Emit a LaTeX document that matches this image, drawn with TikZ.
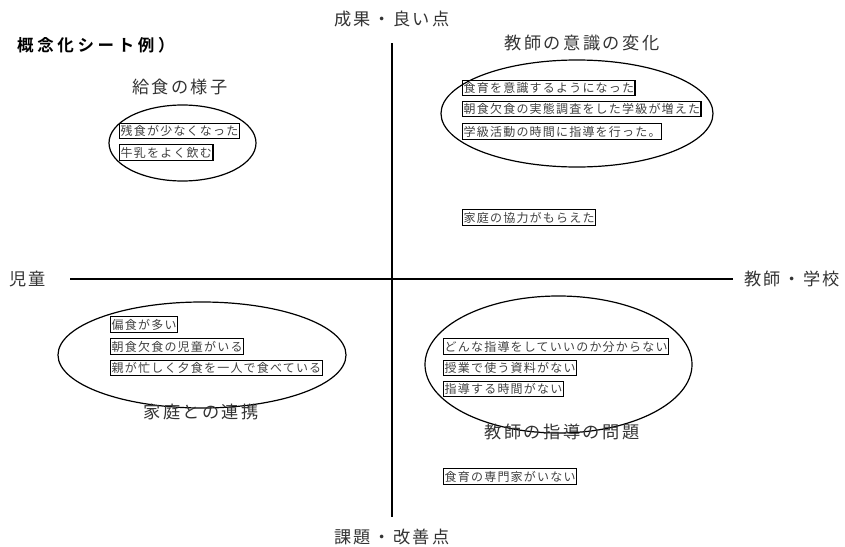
\documentclass[tikz,border=0pt]{standalone}
\usepackage{fontspec}
\newfontfamily\jphead[LetterSpace=14]{Noto Sans CJK JP}
\newfontfamily\jpbox[LetterSpace=10]{Noto Sans CJK JP}
\newfontfamily\jptitle[LetterSpace=22]{Noto Sans CJK JP Bold}
\usetikzlibrary{shapes.geometric}
\tikzset{
  axis/.style={line width=1.6pt},
  grp/.style={draw, ellipse, line width=1.2pt, inner sep=0pt},
  item/.style={draw, line width=1.4pt, anchor=west, inner xsep=1pt, inner ysep=0pt,
    minimum height=15.5pt, font=\jpbox\fontsize{12pt}{12pt}\selectfont, text=black!75},
  head/.style={font=\jphead\fontsize{17.2pt}{17pt}\selectfont, text=black!80, inner sep=0pt},
}
\begin{document}
\begin{tikzpicture}[x=1pt,y=-1pt]
\useasboundingbox (0,0) rectangle (845,546);
% axes
\coordinate (vt) at (392,43);
\coordinate (vb) at (392,517);
\coordinate (hl) at (70,279);
\coordinate (hr) at (733,279);
\draw[axis] (vt) -- (vb);
\draw[axis] (hl) -- (hr);
\node[head] (top) at (392,19) {成果・良い点};
\node[head] (bot) at (392,537) {課題・改善点};
\node[head, anchor=west] (left) at (9,279) {児童};
\node[head, anchor=west] (right) at (744,279) {教師・学校};
% title
\node[font=\jptitle\fontsize{16.5pt}{16pt}\selectfont, anchor=west, inner sep=0pt] (title) at (17,45) {概念化シート例）};
% group 1
\node[head] (h1) at (180,87) {給食の様子};
\node[grp, minimum width=147pt, minimum height=76pt] (e1) at (182.5,143) {};
\node[item] (b11) at (119,131) {残食が少なくなった};
\node[item] (b12) at (119,152.5) {牛乳をよく飲む};
% group 2
\node[head] (h2) at (582,43) {教師の意識の変化};
\node[grp, minimum width=272pt, minimum height=107pt] (e2) at (577,113.5) {};
\node[item] (b21) at (462,88) {食育を意識するようになった};
\node[item] (b22) at (462,109) {朝食欠食の実態調査をした学級が増えた};
\node[item] (b23) at (462,131.5) {学級活動の時間に指導を行った。};
\node[item] (b24) at (462,217.5) {家庭の協力がもらえた};
% group 3
\node[grp, minimum width=288pt, minimum height=106pt] (e3) at (202,355) {};
\node[item] (b31) at (110,324.5) {偏食が多い};
\node[item] (b32) at (110,346.5) {朝食欠食の児童がいる};
\node[item] (b33) at (110,368) {親が忙しく夕食を一人で食べている};
\node[head] (h3) at (201,412) {家庭との連携};
% group 4
\node[grp, minimum width=267pt, minimum height=137pt] (e4) at (558.5,364.5) {};
\node[item] (b41) at (443,346.5) {どんな指導をしていいのか分からない};
\node[item] (b42) at (443,368) {授業で使う資料がない};
\node[item] (b43) at (443,389) {指導する時間がない};
\node[head] (h4) at (562,432) {教師の指導の問題};
\node[item] (b44) at (443,476.5) {食育の専門家がいない};
\end{tikzpicture}
\end{document}
